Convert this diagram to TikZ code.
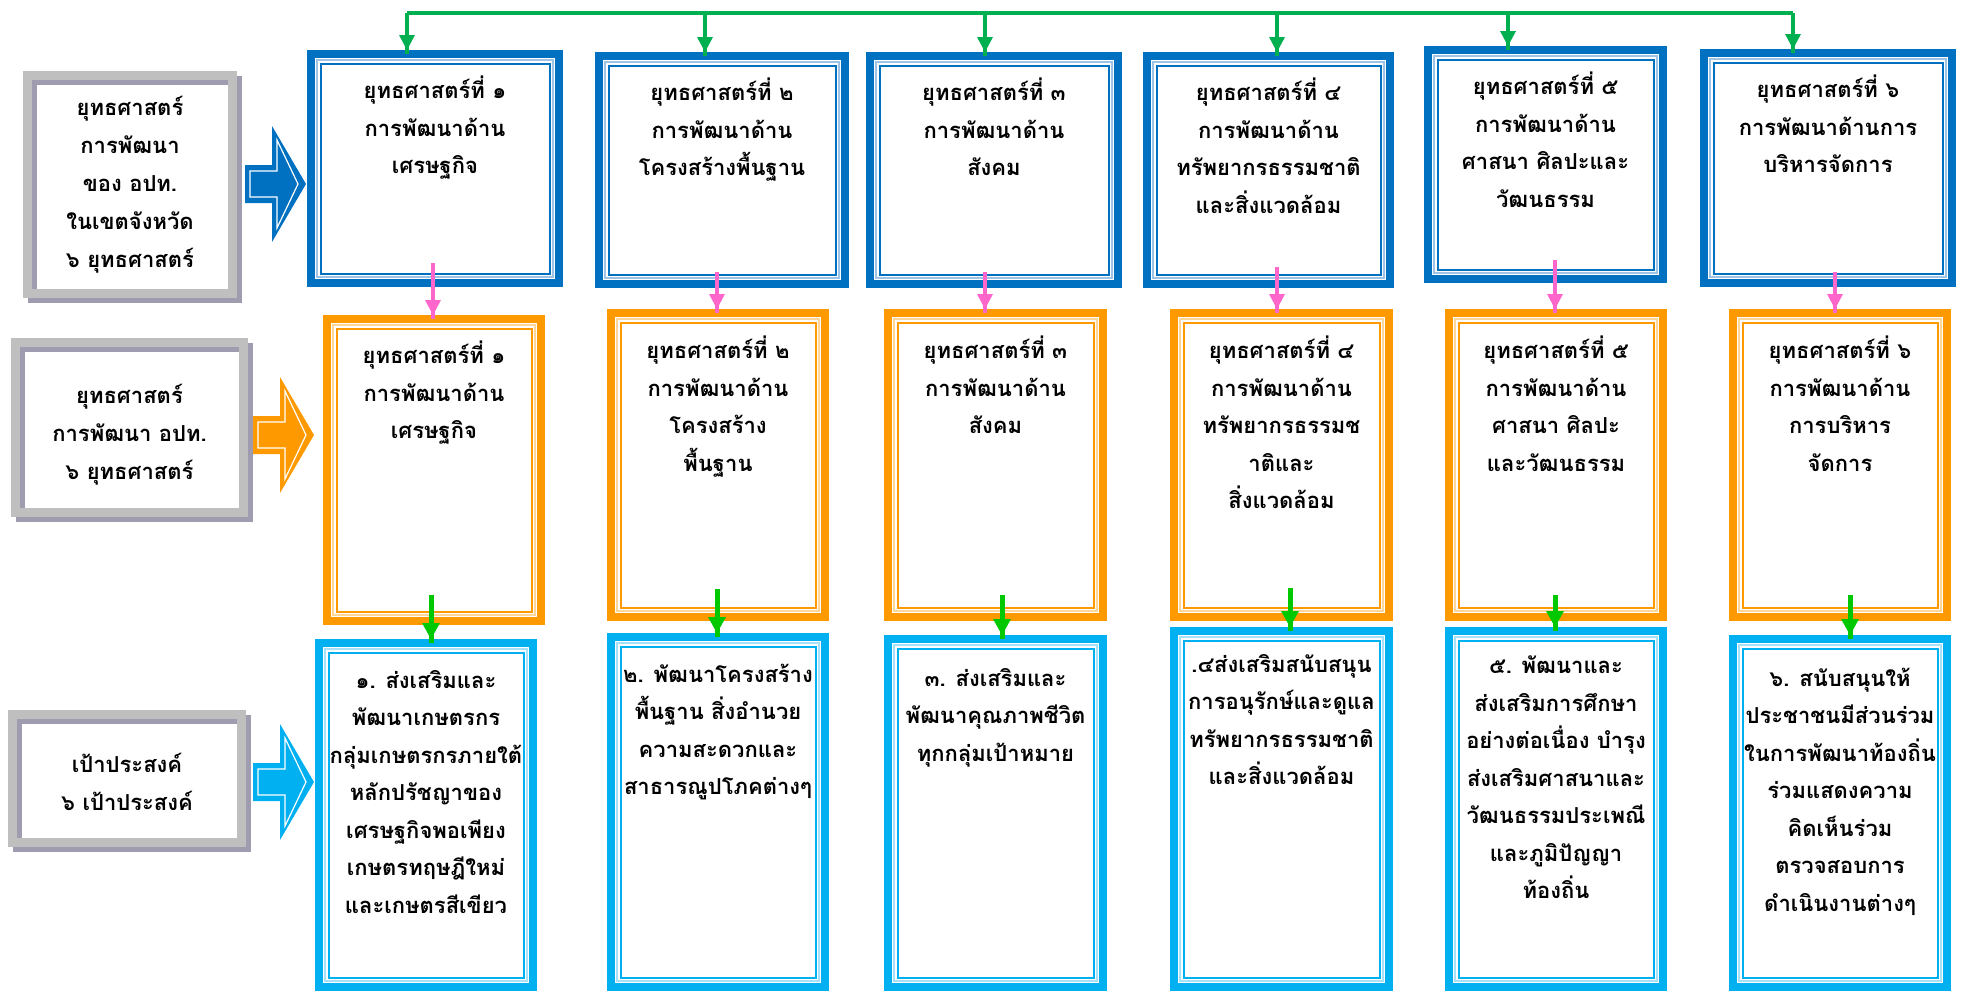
\documentclass[tikz,border=0pt]{standalone}
\usepackage{fontspec}
\usepackage{tikz}
\usepackage{xcolor}
\usetikzlibrary{positioning}
\newfontfamily\thaifont[Script=Thai]{Loma}
\definecolor{dblue}{HTML}{0070C0}
\definecolor{lblue}{HTML}{9DC3E6}
\definecolor{orng}{HTML}{FF9900}
\definecolor{lorng}{HTML}{FFD699}
\definecolor{sky}{HTML}{00B0F0}
\definecolor{lsky}{HTML}{A6E1F9}
\definecolor{framegray}{HTML}{BFBFBF}
\definecolor{shade}{HTML}{A09CB0}
\definecolor{busgreen}{HTML}{00B050}
\definecolor{arrgreen}{HTML}{00C800}
\definecolor{pinkline}{HTML}{FF66CC}

\begin{document}
\begin{tikzpicture}[x=1pt,y=1pt]
\tikzstyle{every node}+=[inner sep=0pt, outer sep=0pt]
\tikzstyle{stratbox}=[draw=dblue, line width=8pt]
\tikzstyle{planbox}=[draw=orng, line width=8pt]
\tikzstyle{goalbox}=[draw=sky, line width=8pt]
\tikzstyle{labelbox}=[draw=framegray, line width=9pt, preaction={draw=shade, line width=9pt, transform canvas={xshift=5pt, yshift=-5pt}}]
\tikzstyle{labeltxt}=[align=center, font=\thaifont\bfseries\fontsize{22}{38}\selectfont]
\tikzstyle{txt}=[align=center, font=\thaifont\bfseries\fontsize{22}{37.5}\selectfont, execute at begin node={\rule{0pt}{28pt}}]
\useasboundingbox (0,0) rectangle (1968,-991);
\node[labelbox, minimum width=205pt, minimum height=218pt] (l1) at (130,-184.5) {};
\node[labelbox, minimum width=228pt, minimum height=170pt] (l2) at (129.5,-427.5) {};
\node[labelbox, minimum width=229pt, minimum height=128pt] (l3) at (127,-778.5) {};
\node[labeltxt] (l1t) at (l1.center) {ยุทธศาสตร์\\การพัฒนา\\ของ อปท.\\ในเขตจังหวัด\\๖ ยุทธศาสตร์};
\node[labeltxt] (l2t) at ([yshift=-7pt]l2.center) {ยุทธศาสตร์\\การพัฒนา อปท.\\๖ ยุทธศาสตร์};
\node[labeltxt] (l3t) at ([yshift=-3pt]l3.center) {เป้าประสงค์\\๖ เป้าประสงค์};
\foreach \c/\x/\y in {dblue/245/184, orng/253/435, sky/253/782} {
\fill[\c] (\x,{19-\y}) -- ({\x+27},{19-\y}) -- ({\x+27},{58-\y}) -- ({\x+61},-\y) -- ({\x+27},{-58-\y}) -- ({\x+27},{-19-\y}) -- (\x,{-19-\y}) -- cycle;
\draw[white, line width=1.2pt] ({\x+5},{13-\y}) -- ({\x+32},{13-\y}) -- ({\x+32},{44-\y}) -- ({\x+53},-\y) -- ({\x+32},{-44-\y}) -- ({\x+32},{-13-\y}) -- ({\x+5},{-13-\y}) -- cycle;
}
\node[stratbox, minimum width=248pt, minimum height=229pt] (b1) at (435,-168.5) {};
\node[stratbox, minimum width=246pt, minimum height=228pt] (b2) at (722,-170) {};
\node[stratbox, minimum width=248pt, minimum height=228pt] (b3) at (994,-170) {};
\node[stratbox, minimum width=243pt, minimum height=228pt] (b4) at (1268.5,-170) {};
\node[stratbox, minimum width=235pt, minimum height=229pt] (b5) at (1545.5,-164.5) {};
\node[stratbox, minimum width=248pt, minimum height=230pt] (b6) at (1828,-168) {};
\node[planbox, minimum width=214pt, minimum height=302pt] (o1) at (434,-470) {};
\node[planbox, minimum width=214pt, minimum height=304pt] (o2) at (718,-465) {};
\node[planbox, minimum width=215pt, minimum height=304pt] (o3) at (995.5,-465) {};
\node[planbox, minimum width=215pt, minimum height=304pt] (o4) at (1281.5,-465) {};
\node[planbox, minimum width=214pt, minimum height=304pt] (o5) at (1556,-465) {};
\node[planbox, minimum width=214pt, minimum height=304pt] (o6) at (1840,-465) {};
\node[goalbox, minimum width=214pt, minimum height=344pt] (c1) at (426,-815) {};
\node[goalbox, minimum width=214pt, minimum height=350pt] (c2) at (718,-812) {};
\node[goalbox, minimum width=215pt, minimum height=348pt] (c3) at (995.5,-813) {};
\node[goalbox, minimum width=215pt, minimum height=356pt] (c4) at (1281.5,-809) {};
\node[goalbox, minimum width=214pt, minimum height=356pt] (c5) at (1556,-809) {};
\node[goalbox, minimum width=214pt, minimum height=348pt] (c6) at (1840,-813) {};
\foreach \n/\c/\l in {b1/dblue/lblue, b2/dblue/lblue, b3/dblue/lblue, b4/dblue/lblue, b5/dblue/lblue, b6/dblue/lblue, o1/orng/lorng, o2/orng/lorng, o3/orng/lorng, o4/orng/lorng, o5/orng/lorng, o6/orng/lorng, c1/sky/lsky, c2/sky/lsky, c3/sky/lsky, c4/sky/lsky, c5/sky/lsky, c6/sky/lsky} {
\draw[\l, line width=1.5pt] ([shift={(6,-6)}]\n.north west) rectangle ([shift={(-6,6)}]\n.south east);
\draw[\c, line width=2pt] ([shift={(9.5,-9.5)}]\n.north west) rectangle ([shift={(-9.5,9.5)}]\n.south east);
}
\node[txt, below=22pt of b1.north] (b1t) {ยุทธศาสตร์ที่ ๑\\การพัฒนาด้าน\\เศรษฐกิจ};
\node[txt, below=22pt of b2.north] (b2t) {ยุทธศาสตร์ที่ ๒\\การพัฒนาด้าน\\โครงสร้างพื้นฐาน};
\node[txt, below=22pt of b3.north] (b3t) {ยุทธศาสตร์ที่ ๓\\การพัฒนาด้าน\\สังคม};
\node[txt, below=22pt of b4.north] (b4t) {ยุทธศาสตร์ที่ ๔\\การพัฒนาด้าน\\ทรัพยากรธรรมชาติ\\และสิ่งแวดล้อม};
\node[txt, below=22pt of b5.north] (b5t) {ยุทธศาสตร์ที่ ๕\\การพัฒนาด้าน\\ศาสนา ศิลปะและ\\วัฒนธรรม};
\node[txt, below=22pt of b6.north] (b6t) {ยุทธศาสตร์ที่ ๖\\การพัฒนาด้านการ\\บริหารจัดการ};
\node[txt, below=22pt of o1.north] (o1t) {ยุทธศาสตร์ที่ ๑\\การพัฒนาด้าน\\เศรษฐกิจ};
\node[txt, below=23pt of o2.north] (o2t) {ยุทธศาสตร์ที่ ๒\\การพัฒนาด้าน\\โครงสร้าง\\พื้นฐาน};
\node[txt, below=23pt of o3.north] (o3t) {ยุทธศาสตร์ที่ ๓\\การพัฒนาด้าน\\สังคม};
\node[txt, below=23pt of o4.north] (o4t) {ยุทธศาสตร์ที่ ๔\\การพัฒนาด้าน\\ทรัพยากรธรรมช\\าติและ\\สิ่งแวดล้อม};
\node[txt, below=23pt of o5.north] (o5t) {ยุทธศาสตร์ที่ ๕\\การพัฒนาด้าน\\ศาสนา ศิลปะ\\และวัฒนธรรม};
\node[txt, below=23pt of o6.north] (o6t) {ยุทธศาสตร์ที่ ๖\\การพัฒนาด้าน\\การบริหาร\\จัดการ};
\node[txt, below=27pt of c1.north] (c1t) {๑. ส่งเสริมและ\\พัฒนาเกษตรกร\\กลุ่มเกษตรกรภายใต้\\หลักปรัชญาของ\\เศรษฐกิจพอเพียง\\เกษตรทฤษฎีใหม่\\และเกษตรสีเขียว};
\node[txt, below=27pt of c2.north] (c2t) {๒. พัฒนาโครงสร้าง\\พื้นฐาน สิ่งอำนวย\\ความสะดวกและ\\สาธารณูปโภคต่างๆ};
\node[txt, below=29pt of c3.north] (c3t) {๓. ส่งเสริมและ\\พัฒนาคุณภาพชีวิต\\ทุกกลุ่มเป้าหมาย};
\node[txt, below=23pt of c4.north] (c4t) {.๔ส่งเสริมสนับสนุน\\การอนุรักษ์และดูแล\\ทรัพยากรธรรมชาติ\\และสิ่งแวดล้อม};
\node[txt, below=25pt of c5.north] (c5t) {๕. พัฒนาและ\\ส่งเสริมการศึกษา\\อย่างต่อเนื่อง บำรุง\\ส่งเสริมศาสนาและ\\วัฒนธรรมประเพณี\\และภูมิปัญญา\\ท้องถิ่น};
\node[txt, below=29pt of c6.north] (c6t) {๖. สนับสนุนให้\\ประชาชนมีส่วนร่วม\\ในการพัฒนาท้องถิ่น\\ร่วมแสดงความ\\คิดเห็นร่วม\\ตรวจสอบการ\\ดำเนินงานต่างๆ};
\coordinate (d1) at (407,-13);
\coordinate (d2) at (705,-13);
\coordinate (d3) at (985,-13);
\coordinate (d4) at (1277,-13);
\coordinate (d5) at (1508,-13);
\coordinate (d6) at (1793,-13);
\draw[busgreen, line width=4pt] (d1) -- (d6);
\foreach \d/\b in {d1/b1, d2/b2, d3/b3, d4/b4, d5/b5, d6/b6} {
\draw[busgreen, line width=4pt] (\d) -- (\d |- \b.north);
\fill[busgreen] (\d |- \b.north) ++(0,4) -- ++(-8,15) -- ++(16,0) -- cycle;
}
\foreach \a/\b/\x/\s in {b1/o1/433/20, b2/o2/717/12, b3/o3/985/12, b4/o4/1277/17, b5/o5/1555/19, b6/o6/1835/11} {
\draw[pinkline, line width=4pt] (\x,0 |- \a.south) ++(0,\s) -- (\x,0 |- \b.north);
\fill[pinkline] (\x,0 |- \b.north) ++(0,4) -- ++(-8,15) -- ++(16,0) -- cycle;
}
\foreach \a/\b/\x/\s in {o1/c1/431/26, o2/c2/717/28, o3/c3/1002/22, o4/c4/1290/29, o5/c5/1555/22, o6/c6/1850/22} {
\draw[arrgreen, line width=5pt] (\x,0 |- \a.south) ++(0,\s) -- (\x,0 |- \b.north);
\fill[arrgreen] (\x,0 |- \b.north) ++(0,4) -- ++(-9,16) -- ++(18,0) -- cycle;
}
\end{tikzpicture}
\end{document}
